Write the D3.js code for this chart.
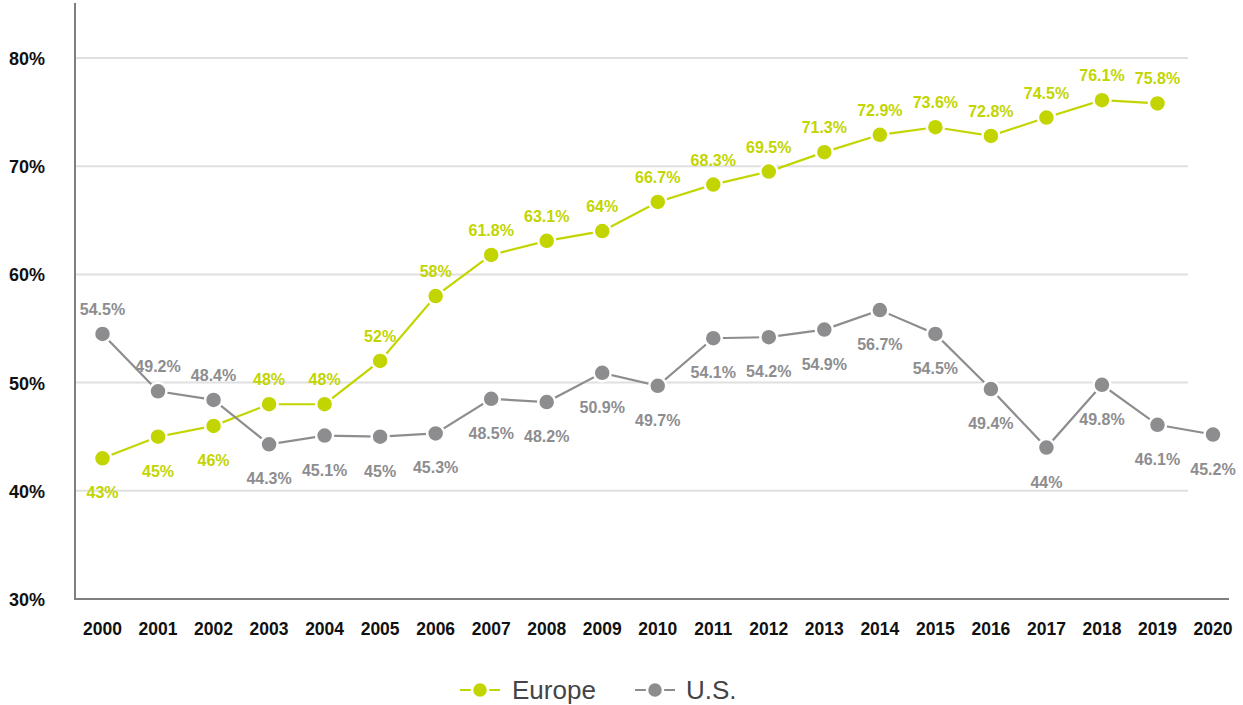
<!DOCTYPE html>
<html><head><meta charset="utf-8">
<script src="https://cdn.jsdelivr.net/npm/d3@7"></script>
<style>body{margin:0;background:#fff;} text{font-family:"Liberation Sans",Arial,sans-serif;}</style>
</head><body>
<svg id="c" width="1243" height="705"></svg>
<script>
const years = [2000,2001,2002,2003,2004,2005,2006,2007,2008,2009,2010,2011,2012,2013,2014,2015,2016,2017,2018,2019,2020];
const europe = [43,45,46,48,48,52,58,61.8,63.1,64,66.7,68.3,69.5,71.3,72.9,73.6,72.8,74.5,76.1,75.8,null];
const us = [54.5,49.2,48.4,44.3,45.1,45,45.3,48.5,48.2,50.9,49.7,54.1,54.2,54.9,56.7,54.5,49.4,44,49.8,46.1,45.2];
// label placement: 1 above, -1 below
const europePos = [-1,-1,-1,1,1,1,1,1,1,1,1,1,1,1,1,1,1,1,1,1,0];
const usPos = [1,1,1,-1,-1,-1,-1,-1,-1,-1,-1,-1,-1,-1,-1,-1,-1,-1,-1,-1,-1];
const yTicks = [30,40,50,60,70,80];
const series = [
  {name:"Europe", values:europe, pos:europePos, color:"#c2d500"},
  {name:"U.S.", values:us, pos:usPos, color:"#8d8d8f"}
];

const svg = d3.select("#c");
const x = d3.scalePoint().domain(years).range([102.5,1213]);
const y = d3.scaleLinear().domain([30,80]).range([599,58]);

// gridlines
svg.append("g").selectAll("line").data(yTicks.filter(t=>t>30)).join("line")
  .attr("x1",76).attr("x2",1188).attr("y1",d=>y(d)).attr("y2",d=>y(d))
  .attr("stroke","#e0e0e0").attr("stroke-width",2);

// y labels
svg.append("g").selectAll("text").data(yTicks).join("text")
  .attr("x",45).attr("y",d=>y(d)+7).attr("text-anchor","end")
  .attr("font-size",18).attr("font-weight","bold").attr("fill","#111")
  .text(d=>d+"%");

// x labels
svg.append("g").selectAll("text").data(years).join("text")
  .attr("x",d=>x(d)).attr("y",635).attr("text-anchor","middle")
  .attr("font-size",17.5).attr("font-weight","bold").attr("fill","#111")
  .text(d=>d);

// axes lines
svg.append("line").attr("x1",75).attr("x2",75).attr("y1",3).attr("y2",600).attr("stroke","#7f7f7f").attr("stroke-width",2);
svg.append("line").attr("x1",74).attr("x2",1229).attr("y1",599).attr("y2",599).attr("stroke","#7f7f7f").attr("stroke-width",2);

series.forEach(s=>{
  const pts = years.map((yr,i)=>({yr,v:s.values[i],p:s.pos[i]})).filter(d=>d.v!=null);
  const line = d3.line().x(d=>x(d.yr)).y(d=>y(d.v));
  const g = svg.append("g");
  g.append("path").datum(pts).attr("d",line).attr("fill","none").attr("stroke",s.color).attr("stroke-width",2.2);
  g.selectAll("circle").data(pts).join("circle")
    .attr("cx",d=>x(d.yr)).attr("cy",d=>y(d.v)).attr("r",8.5)
    .attr("fill",s.color).attr("stroke","#fff").attr("stroke-width",2.5);
  g.selectAll("text").data(pts).join("text")
    .attr("x",d=>x(d.yr)).attr("y",d=>y(d.v)+(d.p>0?-19:40))
    .attr("text-anchor","middle").attr("font-size",16).attr("font-weight","bold")
    .attr("fill",s.color).text(d=>d.v+"%");
});

// legend
const leg = [{s:series[0],x0:460,tx:512},{s:series[1],x0:635,tx:686}];
leg.forEach(l=>{
  const g = svg.append("g");
  g.append("line").attr("x1",l.x0).attr("x2",l.x0+40).attr("y1",690).attr("y2",690).attr("stroke",l.s.color).attr("stroke-width",2);
  g.append("circle").attr("cx",l.x0+20).attr("cy",690).attr("r",8).attr("fill",l.s.color).attr("stroke","#fff").attr("stroke-width",2.5);
  g.append("text").attr("x",l.tx).attr("y",699).attr("font-size",26).attr("fill","#444").text(l.s.name);
});
</script>
</body></html>
